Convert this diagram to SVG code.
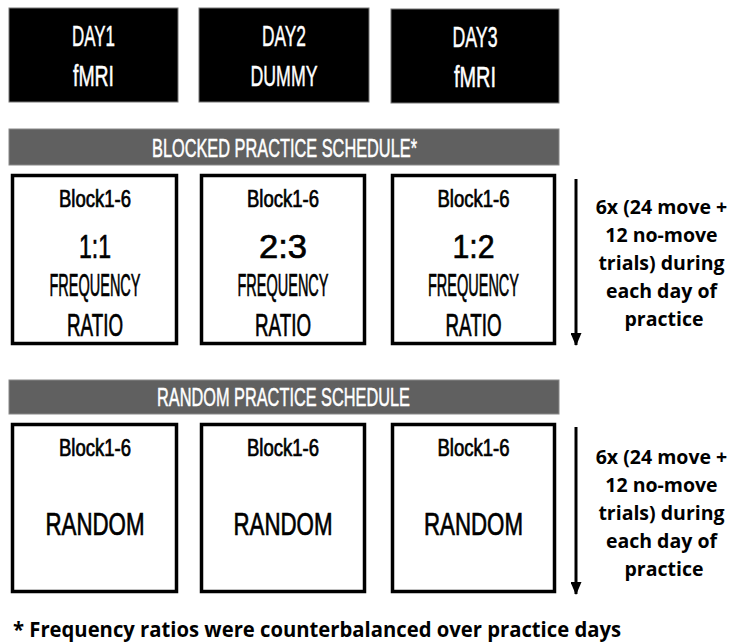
<svg xmlns="http://www.w3.org/2000/svg" width="739" height="644" viewBox="0 0 739 644">
<style>
.day{fill:#000;stroke:#777;stroke-width:1}
.band{fill:#606060;stroke:#888;stroke-width:1}
.box{fill:#fff;stroke:#000;stroke-width:3.5}
.cond{font-family:"Liberation Sans",Arial,sans-serif;text-anchor:middle}
.w{fill:#fff;stroke:#fff;stroke-width:0.5}
.k{fill:#000;stroke:#000;stroke-width:0.7}
.note{font-family:"Open Sans","Liberation Sans",sans-serif;font-weight:bold;fill:#000}
.arr{stroke:#000;stroke-width:3;fill:none}
</style>
<defs>
<marker id="ah" markerWidth="13" markerHeight="11" refX="12" refY="5.5" orient="auto" markerUnits="userSpaceOnUse" viewBox="0 0 13 11">
<path d="M0,0 L13,5.5 L0,11 Z" fill="#000"/>
</marker>
</defs>
<rect width="739" height="644" fill="#fff"/>

<g id="day1">
<rect class="day" x="9" y="8" width="169" height="94"/>
<text class="cond w" x="93.5" y="46" font-size="30" textLength="43" lengthAdjust="spacingAndGlyphs">DAY1</text>
<text class="cond w" x="93.5" y="86" font-size="30" textLength="41" lengthAdjust="spacingAndGlyphs">fMRI</text>
</g>
<g id="day2">
<rect class="day" x="199" y="8" width="170" height="94"/>
<text class="cond w" x="284" y="46" font-size="30" textLength="44" lengthAdjust="spacingAndGlyphs">DAY2</text>
<text class="cond w" x="284" y="86" font-size="30" textLength="67" lengthAdjust="spacingAndGlyphs">DUMMY</text>
</g>
<g id="day3">
<rect class="day" x="391" y="9" width="168" height="94"/>
<text class="cond w" x="475" y="47" font-size="30" textLength="45" lengthAdjust="spacingAndGlyphs">DAY3</text>
<text class="cond w" x="475" y="87" font-size="30" textLength="42" lengthAdjust="spacingAndGlyphs">fMRI</text>
</g>

<g id="blocked-banner">
<rect class="band" x="9" y="129" width="550" height="36"/>
<text class="cond w" x="284.5" y="157" font-size="25" textLength="265" lengthAdjust="spacingAndGlyphs">BLOCKED PRACTICE SCHEDULE*</text>
</g>

<g id="blocked1">
<rect class="box" x="12.5" y="175.5" width="164" height="168"/>
<text class="cond k" x="95" y="207" font-size="23" textLength="72" lengthAdjust="spacingAndGlyphs">Block1-6</text>
<text class="cond k" x="95" y="258" font-size="34" textLength="32" lengthAdjust="spacingAndGlyphs">1:1</text>
<text class="cond k" x="95" y="296" font-size="31" textLength="91" lengthAdjust="spacingAndGlyphs">FREQUENCY</text>
<text class="cond k" x="95" y="336" font-size="31" textLength="56" lengthAdjust="spacingAndGlyphs">RATIO</text>
</g>
<g id="blocked2">
<rect class="box" x="201.5" y="175.5" width="163" height="168"/>
<text class="cond k" x="283" y="207" font-size="23" textLength="72" lengthAdjust="spacingAndGlyphs">Block1-6</text>
<text class="cond k" x="283" y="258" font-size="34" textLength="48" lengthAdjust="spacingAndGlyphs">2:3</text>
<text class="cond k" x="283" y="296" font-size="31" textLength="91" lengthAdjust="spacingAndGlyphs">FREQUENCY</text>
<text class="cond k" x="283" y="336" font-size="31" textLength="56" lengthAdjust="spacingAndGlyphs">RATIO</text>
</g>
<g id="blocked3">
<rect class="box" x="392.5" y="175.5" width="162" height="168"/>
<text class="cond k" x="473.5" y="207" font-size="23" textLength="72" lengthAdjust="spacingAndGlyphs">Block1-6</text>
<text class="cond k" x="473.5" y="258" font-size="34" textLength="42" lengthAdjust="spacingAndGlyphs">1:2</text>
<text class="cond k" x="473.5" y="296" font-size="31" textLength="91" lengthAdjust="spacingAndGlyphs">FREQUENCY</text>
<text class="cond k" x="473.5" y="336" font-size="31" textLength="56" lengthAdjust="spacingAndGlyphs">RATIO</text>
</g>

<g id="blocked-note">
<text class="note" text-anchor="middle" font-size="19.5">
<tspan x="664" y="214">6x (24 move +</tspan>
<tspan x="664" y="242">12 no-move</tspan>
<tspan x="664" y="270">trials) during</tspan>
<tspan x="664" y="298">each day of</tspan>
<tspan x="664" y="326">practice</tspan>
</text>
</g>

<g id="random-banner">
<rect class="band" x="9" y="380" width="550" height="34"/>
<text class="cond w" x="283.5" y="406" font-size="25" textLength="253" lengthAdjust="spacingAndGlyphs">RANDOM PRACTICE SCHEDULE</text>
</g>

<g id="random1">
<rect class="box" x="12.5" y="424.5" width="164" height="167"/>
<text class="cond k" x="95" y="456" font-size="23" textLength="72" lengthAdjust="spacingAndGlyphs">Block1-6</text>
<text class="cond k" x="95" y="535" font-size="32" textLength="99" lengthAdjust="spacingAndGlyphs">RANDOM</text>
</g>
<g id="random2">
<rect class="box" x="201.5" y="424.5" width="163" height="167"/>
<text class="cond k" x="283" y="456" font-size="23" textLength="72" lengthAdjust="spacingAndGlyphs">Block1-6</text>
<text class="cond k" x="283" y="535" font-size="32" textLength="99" lengthAdjust="spacingAndGlyphs">RANDOM</text>
</g>
<g id="random3">
<rect class="box" x="392.5" y="424.5" width="162" height="167"/>
<text class="cond k" x="473.5" y="456" font-size="23" textLength="72" lengthAdjust="spacingAndGlyphs">Block1-6</text>
<text class="cond k" x="473.5" y="535" font-size="32" textLength="99" lengthAdjust="spacingAndGlyphs">RANDOM</text>
</g>

<g id="random-note">
<text class="note" text-anchor="middle" font-size="19.5">
<tspan x="664" y="464">6x (24 move +</tspan>
<tspan x="664" y="492">12 no-move</tspan>
<tspan x="664" y="520">trials) during</tspan>
<tspan x="664" y="548">each day of</tspan>
<tspan x="664" y="576">practice</tspan>
</text>
</g>

<g id="connectors">
<line class="arr" x1="576" y1="179" x2="576" y2="345" marker-end="url(#ah)"/>
<line class="arr" x1="576" y1="427" x2="576" y2="594" marker-end="url(#ah)"/>
</g>

<g id="footnote">
<text class="note" x="13" y="637" font-size="21" textLength="608" lengthAdjust="spacingAndGlyphs">* Frequency ratios were counterbalanced over practice days</text>
</g>
</svg>
